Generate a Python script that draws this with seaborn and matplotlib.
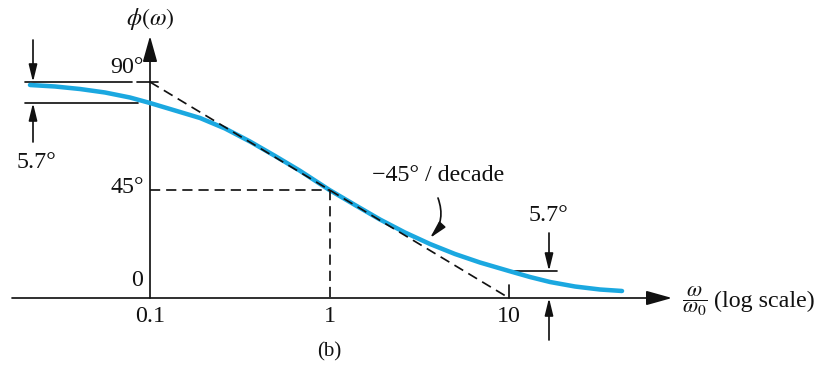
import matplotlib
matplotlib.use("Agg")
import matplotlib.pyplot as plt
import seaborn as sns

# Phase response phi(omega) of a first-order low-pass stage, with its straight-line asymptotes
omega_ratio = [0.02145, 0.02957, 0.04074, 0.05614, 0.07735, 0.1, 0.1378, 0.19,
               0.2618, 0.3607, 0.497, 0.6849, 1.0, 1.387, 1.911, 2.634, 3.63,
               5.003, 6.893, 10.0, 13.09, 16.92, 23.32, 32.14, 42.62]
phase_deg = [88.75, 88.13, 87.08, 85.63, 83.54, 81.25, 78.13, 75.0,
             70.63, 65.2, 59.2, 53.0, 45.0, 38.75, 32.71, 27.29, 22.5,
             18.33, 14.79, 11.25, 8.75, 6.67, 4.79, 3.54, 2.92]

asymptote_w = [0.1, 10.0]
asymptote_deg = [90.0, 0.0]
corner_w = 1.0
corner_deg = 45.0

x_ticks = [0.1, 1.0, 10.0]
x_tick_labels = ["0.1", "1", "10"]
y_ticks = [0.0, 45.0, 90.0]
y_tick_labels = ["0", "45°", "90°"]
offset_label = "5.7°"
slope_label = "−45° / decade"

sns.set_style("white")
plt.rcParams["font.family"] = ["Liberation Serif", "DejaVu Serif"]
plt.rcParams["mathtext.fontset"] = "stix"

BLUE = "#1ba8e0"
INK = "#111111"
FS = 24
LW = 1.7
DASH = (6, 3.5)

DPI = 72
fig = plt.figure(figsize=(828 / DPI, 370 / DPI), dpi=DPI)
ax = fig.add_axes([0, 0, 1, 1])
ax.set_xscale("log")

# screen helpers: horizontal pixel -> omega ratio, vertical pixel -> degrees
PX_DECADE = 179.5
PX_PER_DEG = 2.4


def wx(px):
    return 10 ** (-1 + (px - 150) / PX_DECADE)


def dy(py):
    return (298 - py) / PX_PER_DEG


ax.set_xlim(wx(0), wx(828))
ax.set_ylim(dy(370), dy(0))
ax.axis("off")

# axes with arrow heads
axis_arrow = dict(arrowstyle="-|>,head_length=1.0,head_width=0.28",
                  mutation_scale=22, lw=LW, color=INK, shrinkA=0, shrinkB=0)
ax.annotate("", xy=(wx(672), 0), xytext=(wx(12), 0), arrowprops=axis_arrow)
ax.annotate("", xy=(x_ticks[0], dy(36)), xytext=(x_ticks[0], 0), arrowprops=axis_arrow)

# phase curve
sns.lineplot(x=omega_ratio, y=phase_deg, ax=ax, color=BLUE, lw=4.5,
             sort=True, legend=False, zorder=3)

# asymptotes and corner guides, drawn over the curve
ax.plot(asymptote_w, asymptote_deg, color=INK, lw=LW, dashes=DASH, zorder=4)
ax.plot([x_ticks[0], corner_w], [corner_deg, corner_deg], color=INK, lw=LW, dashes=DASH, zorder=4)
ax.plot([corner_w, corner_w], [corner_deg, 0], color=INK, lw=LW, dashes=DASH, zorder=4)
ax.plot([wx(137), x_ticks[0]], [90, 90], color=INK, lw=LW)
ax.plot([x_ticks[0], wx(158)], [90, 90], color=INK, lw=LW)
ax.plot([x_ticks[2], x_ticks[2]], [0, dy(285)], color=INK, lw=LW)

# tick labels
for w, lab in zip(x_ticks, x_tick_labels):
    ax.annotate(lab, xy=(w, 0), xytext=(0, -18), textcoords="offset points",
                ha="center", va="center", fontsize=FS, color=INK)
ax.annotate(y_tick_labels[0], xy=(x_ticks[0], y_ticks[0]), xytext=(-13, 18),
            textcoords="offset points", ha="center", va="center", fontsize=FS, color=INK)
ax.annotate(y_tick_labels[1], xy=(x_ticks[0], y_ticks[1]), xytext=(-6, 3),
            textcoords="offset points", ha="right", va="center", fontsize=FS, color=INK)
ax.annotate(y_tick_labels[2], xy=(x_ticks[0], y_ticks[2]), xytext=(-6, 15),
            textcoords="offset points", ha="right", va="center", fontsize=FS, color=INK)

# axis titles
ax.text(x_ticks[0], dy(19), r"$\phi(\omega)$", ha="center", va="center", fontsize=FS, color=INK)
ax.text(wx(695), dy(301), r"$\dfrac{\omega}{\omega_0}$", ha="center", va="center",
        fontsize=FS - 2, color=INK)
ax.text(wx(714), dy(301), "(log scale)", ha="left", va="center", fontsize=FS, color=INK)

# 5.7 deg markers near the corner frequencies
dim_arrow = dict(arrowstyle="-|>,head_length=0.9,head_width=0.22",
                 mutation_scale=16, lw=LW, color=INK, shrinkA=0, shrinkB=0)
low_deg = phase_deg[omega_ratio.index(0.1)]
high_deg = phase_deg[omega_ratio.index(10.0)]

ax.plot([wx(25), wx(132)], [90, 90], color=INK, lw=LW)
ax.plot([wx(25), wx(138)], [low_deg, low_deg], color=INK, lw=LW)
ax.annotate("", xy=(wx(33), 90), xytext=(wx(33), dy(40)), arrowprops=dim_arrow)
ax.annotate("", xy=(wx(33), low_deg), xytext=(wx(33), dy(142)), arrowprops=dim_arrow)
ax.text(wx(36), dy(162), offset_label, ha="center", va="center", fontsize=FS, color=INK)

ax.plot([x_ticks[2], wx(557)], [high_deg, high_deg], color=INK, lw=LW)
ax.annotate("", xy=(wx(549), high_deg), xytext=(wx(549), dy(233)), arrowprops=dim_arrow)
ax.annotate("", xy=(wx(549), 0), xytext=(wx(549), dy(340)), arrowprops=dim_arrow)
ax.text(wx(548), dy(215), offset_label, ha="center", va="center", fontsize=FS, color=INK)

# slope callout
ax.text(wx(438), dy(175), slope_label, ha="center", va="center", fontsize=FS, color=INK)
ax.annotate("", xy=(wx(430), dy(238)), xytext=(wx(438), dy(198)),
            arrowprops=dict(arrowstyle="-|>,head_length=0.9,head_width=0.22",
                            mutation_scale=16, lw=LW, color=INK, shrinkA=0, shrinkB=0,
                            connectionstyle="arc3,rad=-0.3"))

ax.text(corner_w, dy(352), "(b)", ha="center", va="center", fontsize=FS - 3, color=INK)

fig.savefig("out.png", dpi=DPI)
